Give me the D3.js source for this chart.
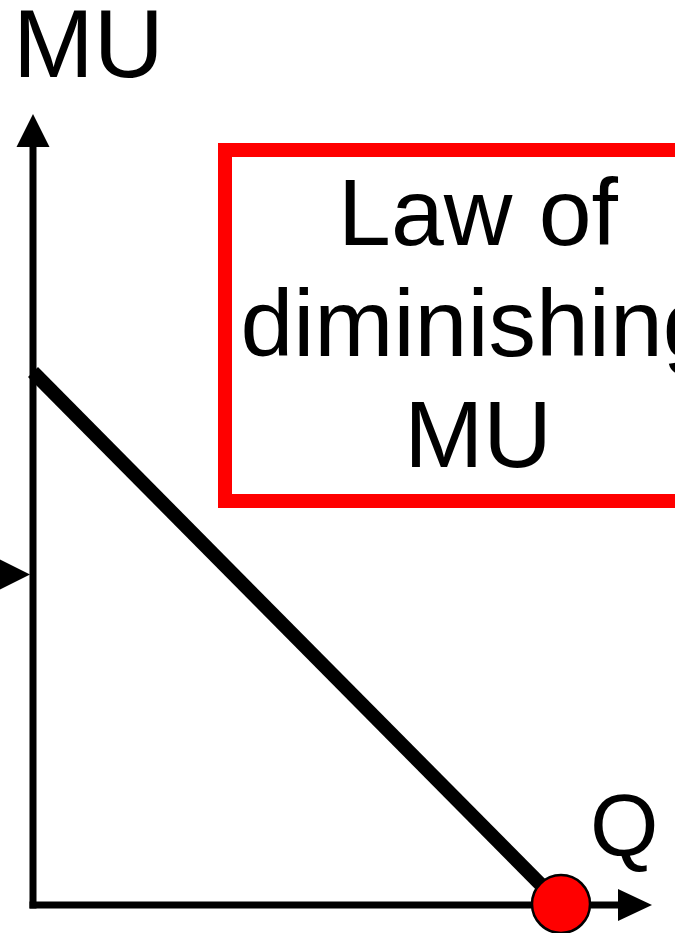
<!DOCTYPE html>
<html>
<head>
<meta charset="utf-8">
<script src="https://cdn.jsdelivr.net/npm/d3@7"></script>
<style>
  html, body { margin: 0; padding: 0; background: #fff; }
  svg { display: block; }
  text { font-family: "Liberation Sans", Arial, sans-serif; fill: #000; }
</style>
</head>
<body>
<div id="chart"></div>
<script>
// MU curve: marginal utility falls as quantity rises
const quantity = [0, 10];
const marginalUtility = [10, 0];
// point where MU reaches zero
const zeroPoint = [{ q: 10, mu: 0 }];
// level marked by the arrow on the left edge
const markerLevel = [6.2];
const boxLines = ["Law of", "diminishing", "MU"];

const width = 675, height = 933;

const svg = d3.select("#chart").append("svg")
    .attr("width", width)
    .attr("height", height);

const x = d3.scaleLinear().domain([0, 10]).range([33, 561]);
const y = d3.scaleLinear().domain([0, 10]).range([905, 372]);

const qMax = x.invert(652);   // tip of Q axis arrow
const muMax = y.invert(114);  // tip of MU axis arrow

// red box with the title
svg.append("rect")
    .attr("x", 225)
    .attr("y", 150)
    .attr("width", 520)
    .attr("height", 351)
    .attr("fill", "none")
    .attr("stroke", "#ff0000")
    .attr("stroke-width", 14);

svg.append("g")
    .selectAll("text")
    .data(boxLines)
    .enter().append("text")
    .attr("x", 478)
    .attr("y", (d, i) => 245 + i * 111)
    .attr("text-anchor", "middle")
    .attr("font-size", 95)
    .text(d => d);

// axes
const axes = svg.append("g");
axes.append("line")
    .attr("x1", x(0)).attr("y1", y(0) + 3.5)
    .attr("x2", x(0)).attr("y2", y(muMax) + 32)
    .attr("stroke", "#000").attr("stroke-width", 7);
axes.append("path")
    .attr("d", `M${x(0)},${y(muMax)} L${x(0) + 16.5},${y(muMax) + 33} L${x(0) - 16.5},${y(muMax) + 33} Z`)
    .attr("fill", "#000");

axes.append("line")
    .attr("x1", x(0) - 3.5).attr("y1", y(0))
    .attr("x2", x(qMax) - 33).attr("y2", y(0))
    .attr("stroke", "#000").attr("stroke-width", 7);
axes.append("path")
    .attr("d", `M${x(qMax)},${y(0)} L${x(qMax) - 34},${y(0) - 16} L${x(qMax) - 34},${y(0) + 16} Z`)
    .attr("fill", "#000");

// arrow pointing at the MU axis from the left edge
svg.append("g")
    .selectAll("path")
    .data(markerLevel)
    .enter().append("path")
    .attr("d", d => `M${x(0) - 3},${y(d)} L${x(0) - 36},${y(d) - 16.5} L${x(0) - 36},${y(d) + 16.5} Z`)
    .attr("fill", "#000");

// axis labels
svg.append("text")
    .attr("x", 13).attr("y", 77)
    .attr("font-size", 97)
    .text("MU");
svg.append("text")
    .attr("x", 590).attr("y", 856)
    .attr("font-size", 88)
    .text("Q");

// the MU line
const line = d3.line()
    .x(d => x(d[0]))
    .y(d => y(d[1]));

svg.append("path")
    .datum(d3.zip(quantity, marginalUtility))
    .attr("d", line)
    .attr("fill", "none")
    .attr("stroke", "#000")
    .attr("stroke-width", 14);

svg.append("g")
    .selectAll("circle")
    .data(zeroPoint)
    .enter().append("circle")
    .attr("cx", d => x(d.q))
    .attr("cy", d => y(d.mu) - 1)
    .attr("r", 29)
    .attr("fill", "#ff0000")
    .attr("stroke", "#000")
    .attr("stroke-width", 2.5);
</script>
</body>
</html>
